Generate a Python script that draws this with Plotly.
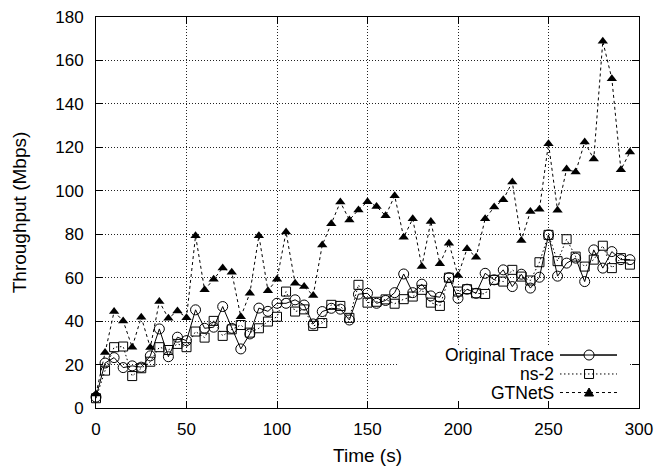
import plotly.graph_objects as go

time_s = [0, 5, 10, 15, 20, 25, 30, 35, 40, 45, 50, 55, 60, 65, 70, 75, 80, 85, 90, 95,
          100, 105, 110, 115, 120, 125, 130, 135, 140, 145, 150, 155, 160, 165, 170, 175, 180, 185, 190, 195,
          200, 205, 210, 215, 220, 225, 230, 235, 240, 245, 250, 255, 260, 265, 270, 275, 280, 285, 290, 295]

original_trace = [5, 20.7, 23.2, 18.6, 19.4, 18.8, 24, 36.4, 23.6, 32.6, 31, 45.2, 36.7, 37.2, 46.7, 36.7, 27.2, 34.1, 46, 44.5,
                  48.2, 48.2, 49.8, 47.4, 38.7, 44.4, 45.9, 45.5, 40.5, 52.4, 52.8, 48.2, 49.5, 53.1, 61.7, 53.1, 57, 51.6, 51, 60,
                  50.5, 54.7, 52.8, 62, 59, 63.6, 55.9, 61.6, 55.2, 60.2, 79.7, 60.7, 66.7, 69, 58.2, 72.8, 64.4, 72, 68.3, 68.3]

ns2 = [4.5, 17.2, 28, 28.3, 14.7, 18.3, 21.3, 28, 26.7, 29.5, 28, 35.2, 32.4, 40.1, 33.2, 36.2, 38.2, 34.7, 36.7, 39.8,
       42, 53.6, 44.4, 45.4, 37.8, 39.1, 47.5, 47, 41.5, 56.7, 48.5, 48.9, 50, 48, 50.1, 51.3, 54.4, 48.5, 47, 60,
       53.6, 54.7, 52.8, 52.5, 59, 58.2, 63.6, 60.5, 58.7, 67.1, 79.7, 67.6, 77.7, 69.7, 65.1, 68.3, 74.7, 64.4, 69, 66]

gtnets = [6.5, 25.5, 44.4, 40.1, 28, 41.8, 27.8, 49, 41.3, 44.7, 41.6, 79.3, 54.4, 59.3, 64.4, 62.5, 42, 52.8, 79.3, 54,
          59.3, 81, 57.4, 55.9, 51.8, 75, 84.8, 94.8, 86.6, 91.2, 95, 92.8, 88.5, 97.7, 78.6, 87.1, 65.1, 85.9, 66.4, 75.9,
          61, 73.3, 69.4, 87.1, 92.5, 95.9, 104, 77.1, 90.5, 91.5, 121.7, 91, 110, 108.6, 122.4, 114.6, 168.8, 151.6, 109.7, 117.8]

series_names = ["Original Trace", "ns-2", "GTNetS"]
x_ticks = [0, 50, 100, 150, 200, 250, 300]
y_ticks = [0, 20, 40, 60, 80, 100, 120, 140, 160, 180]

FONT = "Liberation Sans, Arial, sans-serif"
NS2_DASH = "1.5px,2.5px"
GT_DASH = "3px,3px"

fig = go.Figure()
fig.add_trace(go.Scatter(x=time_s, y=original_trace, mode="lines+markers", name=series_names[0],
                         line=dict(color="black", width=1),
                         marker=dict(symbol="circle-open", size=10, color="black", line=dict(width=1)),
                         cliponaxis=False, showlegend=False))
fig.add_trace(go.Scatter(x=time_s, y=ns2, mode="lines+markers", name=series_names[1],
                         line=dict(color="black", width=1, dash=NS2_DASH),
                         marker=dict(symbol="square-open", size=9, color="black", line=dict(width=1)),
                         cliponaxis=False, showlegend=False))
fig.add_trace(go.Scatter(x=time_s, y=gtnets, mode="lines+markers", name=series_names[2],
                         line=dict(color="black", width=1, dash=GT_DASH),
                         marker=dict(symbol="triangle-up", size=9, color="black"),
                         cliponaxis=False, showlegend=False))

axis_common = dict(showline=True, linecolor="black", linewidth=1, mirror="allticks",
                   ticks="inside", ticklen=7, tickcolor="black", tickwidth=1,
                   showgrid=True, gridcolor="#222222", gridwidth=1, griddash="1px,2px",
                   zeroline=False, automargin=False,
                   tickfont=dict(family=FONT, size=17, color="black"))

fig.update_xaxes(range=[0, 300], tickvals=x_ticks, ticktext=[str(v) for v in x_ticks],
                 title=dict(text="Time (s)", font=dict(family=FONT, size=19, color="black"), standoff=12),
                 ticklabelstandoff=6, **axis_common)
fig.update_yaxes(range=[0, 180], tickvals=y_ticks, ticktext=[str(v) for v in y_ticks],
                 title=dict(text="Throughput (Mbps)", font=dict(family=FONT, size=19, color="black"), standoff=23),
                 ticklabelstandoff=8, **axis_common)

# gnuplot-style key (text at left, sample at right) on a white box
shapes = [dict(type="rect", xref="paper", yref="paper", x0=0.558, x1=0.980, y0=0.018, y1=0.159,
               fillcolor="white", line=dict(width=0), layer="above")]
rows_y = [0.1355, 0.087, 0.0396]
dashes = ["solid", NS2_DASH, GT_DASH]
annotations = []
mx = 0.908
for name, ry, dsh in zip(series_names, rows_y, dashes):
    annotations.append(dict(text=name, xref="paper", yref="paper", x=0.845, y=ry, xanchor="right",
                            yanchor="middle", showarrow=False, height=18, borderpad=0,
                            font=dict(family=FONT, size=17.5, color="black")))
    shapes.append(dict(type="line", xref="paper", yref="paper", x0=0.8545, x1=0.9595, y0=ry, y1=ry,
                       line=dict(color="black", width=1, dash=dsh), layer="above"))
# sample markers
shapes.append(dict(type="circle", xref="paper", yref="paper", xsizemode="pixel", ysizemode="pixel",
                   xanchor=mx, yanchor=rows_y[0], x0=-5, x1=5, y0=-5, y1=5,
                   fillcolor="white", line=dict(color="black", width=1), layer="above"))
shapes.append(dict(type="line", xref="paper", yref="paper", x0=0.8545, x1=0.9595, y0=rows_y[0], y1=rows_y[0],
                   line=dict(color="black", width=1), layer="above"))
shapes.append(dict(type="rect", xref="paper", yref="paper", xsizemode="pixel", ysizemode="pixel",
                   xanchor=mx, yanchor=rows_y[1], x0=-4.5, x1=4.5, y0=-4.5, y1=4.5,
                   fillcolor="rgba(0,0,0,0)", line=dict(color="black", width=1), layer="above"))
shapes.append(dict(type="path", xref="paper", yref="paper", xsizemode="pixel", ysizemode="pixel",
                   xanchor=mx, yanchor=rows_y[2], path="M -4.5,-3.5 L 4.5,-3.5 L 0,4.5 Z",
                   fillcolor="black", line=dict(color="black", width=1), layer="above"))

fig.update_layout(width=659, height=466, autosize=False,
                  margin=dict(l=96, r=20, t=17, b=58),
                  paper_bgcolor="white", plot_bgcolor="white",
                  font=dict(family=FONT, color="black"),
                  shapes=shapes, annotations=annotations)

fig.write_html("out.html")
